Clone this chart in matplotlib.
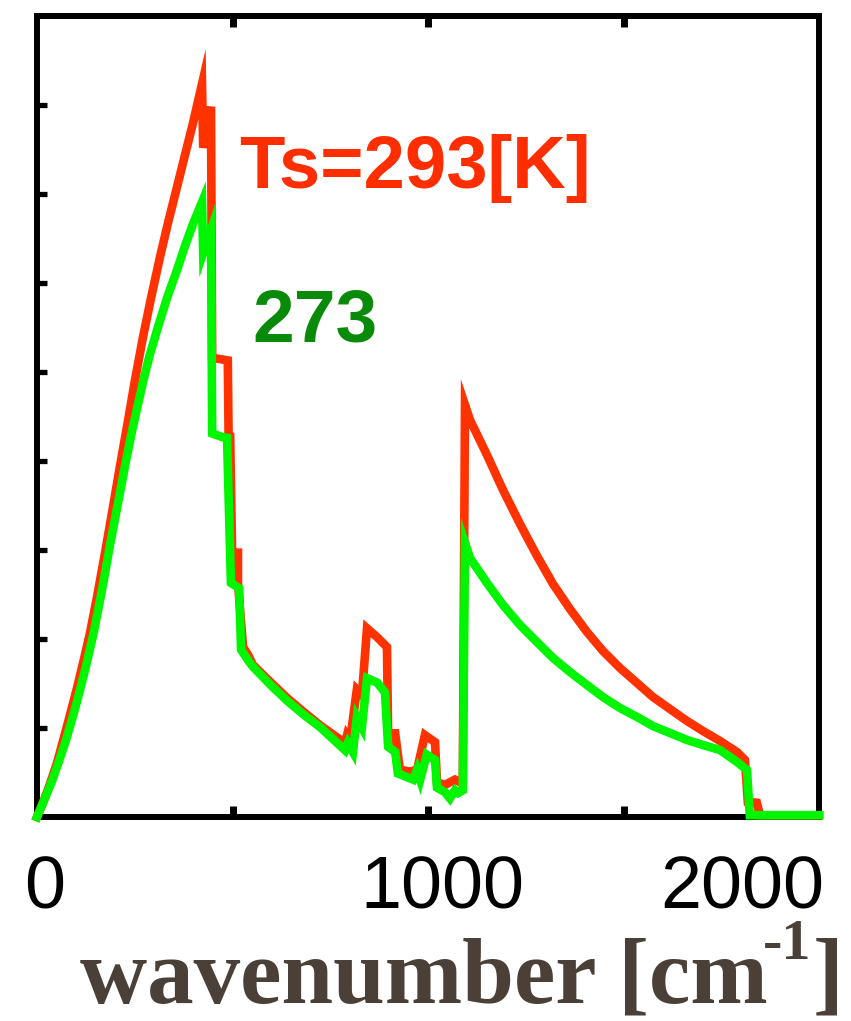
import matplotlib
matplotlib.use("Agg")
import matplotlib.pyplot as plt

# ---- data (wavenumber [cm^-1], emission in arbitrary units 0..9) ----
wn_293 = [0, 17.9, 33.2, 51.2, 66.5, 84.4, 102.3, 120.2, 135.5, 153.5, 173.9, 194.4,
          212.3, 232.7, 250.6, 271.1, 291.6, 314.6, 335.0, 358.1, 378.5, 399.0, 422.0,
          425, 445, 448, 488, 490, 494, 499, 514, 514, 527, 540, 552, 596, 639, 682,
          724, 788, 793, 801, 818, 831, 844, 870, 895, 898, 916, 928, 954, 972, 992,
          1018, 1023, 1043, 1069, 1082, 1089,
          1094.6, 1107.4, 1150.9, 1191.8, 1235.3, 1278.8, 1319.7, 1363.1, 1406.6,
          1447.5, 1491.0, 1534.5, 1575.4, 1618.9, 1662.4, 1703.3, 1746.8, 1790.3,
          1810.7, 1818, 1841, 1849, 2000]
rad_293 = [0.0, 0.191, 0.371, 0.607, 0.854, 1.146, 1.449, 1.775, 2.067, 2.472, 2.966,
           3.483, 3.944, 4.449, 4.910, 5.393, 5.831, 6.292, 6.674, 7.079, 7.438, 7.798,
           8.236, 7.52, 7.98, 5.16, 5.13, 4.27, 4.27, 2.97, 2.97, 2.63, 1.91, 1.82,
           1.71, 1.52, 1.34, 1.18, 1.03, 0.83, 0.92, 0.87, 1.43, 1.37, 2.12, 2.02,
           1.91, 0.94, 0.94, 0.53, 0.51, 0.53, 0.92, 0.84, 0.39, 0.36, 0.42, 0.39,
           0.39,
           4.629, 4.461, 4.067, 3.674, 3.292, 2.933, 2.618, 2.337, 2.079, 1.865, 1.674,
           1.506, 1.348, 1.213, 1.079, 0.966, 0.854, 0.730, 0.640, 0.17, 0.16, 0.02,
           0.02]

wn_273 = [0, 20.5, 38.4, 56.3, 74.2, 92.1, 110.0, 127.9, 145.8, 166.2, 186.7, 207.2,
          225.1, 243.0, 271.1, 289.0, 309.5, 332.5, 358.1, 378.5, 399.0, 422.0,
          425, 445, 448, 473, 486, 496, 517, 522, 540, 552, 596, 639, 682, 724, 788,
          795, 808, 818, 831, 844, 870, 890, 898, 916, 923, 962, 972, 980, 997, 1018,
          1023, 1043, 1056, 1069, 1077, 1089,
          1094.6, 1107.4, 1150.9, 1191.8, 1235.3, 1278.8, 1319.7, 1363.1, 1406.6,
          1447.5, 1491.0, 1534.5, 1575.4, 1618.9, 1662.4, 1703.3, 1746.8, 1790.3,
          1815.8, 1823, 2000]
rad_273 = [0.0, 0.213, 0.404, 0.629, 0.865, 1.135, 1.427, 1.742, 2.090, 2.551, 3.056,
           3.528, 3.944, 4.337, 4.888, 5.202, 5.506, 5.831, 6.146, 6.416, 6.663, 6.910,
           6.34, 6.60, 4.31, 4.27, 4.26, 2.63, 2.57, 1.88, 1.76, 1.69, 1.49, 1.31,
           1.15, 1.01, 0.75, 0.83, 0.73, 1.12, 1.01, 1.56, 1.51, 1.40, 0.79, 0.73,
           0.49, 0.42, 0.53, 0.42, 0.70, 0.64, 0.33, 0.28, 0.21, 0.30, 0.27, 0.30,
           3.079, 2.910, 2.629, 2.382, 2.157, 1.966, 1.787, 1.629, 1.483, 1.348, 1.225,
           1.124, 1.022, 0.944, 0.865, 0.809, 0.753, 0.618, 0.528, 0.02, 0.02]

x_ticks = [500, 1000, 1500]
y_ticks = [1, 2, 3, 4, 5, 6, 7, 8]
x_tick_labels = ["0", "1000", "2000"]
series_labels = ["Ts=293[K]", "273"]

W, H = 851, 1021
fig = plt.figure(figsize=(W / 100, H / 100), dpi=100)
ax = fig.add_axes([37 / W, (H - 817) / H, 782 / W, 801 / H])

ax.plot(wn_293, rad_293, color="#ff3200", lw=6.2, zorder=3, clip_on=False,
        solid_joinstyle="miter")
ax.plot(wn_273, rad_273, color="#00f500", lw=6.2, zorder=4, clip_on=False,
        solid_joinstyle="miter")

ax.set_xlim(0, 2000)
ax.set_ylim(0, 9)
for s in ax.spines.values():
    s.set_linewidth(4.3)
    s.set_color("black")

ax.set_xticks(x_ticks)
ax.set_yticks(y_ticks)
ax.tick_params(axis="x", which="both", direction="in", length=8, width=5,
               top=True, bottom=True, labelbottom=False)
ax.tick_params(axis="y", which="both", direction="in", length=7.5, width=3.8,
               left=True, right=False, labelleft=False)

# annotations
ax.text(517, 7.07, series_labels[0], color="#ff2e00", fontsize=53.5,
        family="Liberation Sans", fontweight="bold", va="baseline", ha="left")
ax.text(550, 5.34, series_labels[1], color="#098a09", fontsize=54,
        family="Liberation Sans", fontweight="bold", va="baseline", ha="left")

# x tick labels (placed as in the reference)
for lab, xc in zip(x_tick_labels, [45, 442, 742]):
    fig.text(xc / W, (H - 908) / H, lab, fontsize=53, family="Liberation Sans",
             ha="center", va="baseline", color="black")

# x axis label
lab_col = "#4a4038"
fig.text(80 / W, (H - 1002) / H, "wavenumber [cm", fontsize=67,
         family="Liberation Serif", fontweight="bold", color=lab_col,
         ha="left", va="baseline")
fig.text(811 / W, (H - 959) / H, "-1", fontsize=42,
         family="Liberation Serif", fontweight="bold", color=lab_col,
         ha="right", va="baseline")
fig.text(813 / W, (H - 1002) / H, "]", fontsize=67,
         family="Liberation Serif", fontweight="bold", color=lab_col,
         ha="left", va="baseline")

fig.savefig("out.png", dpi=100)
